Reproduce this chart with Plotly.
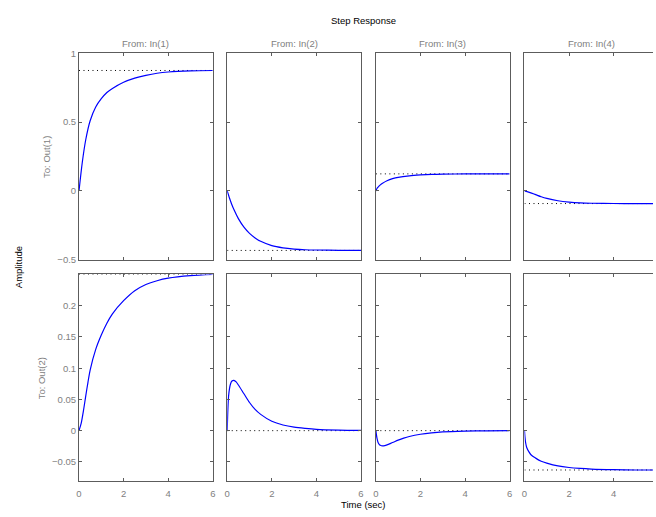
import plotly.graph_objects as go

W, H = 656, 517

# ---- data (time in sec, amplitude) ----
t_11 = [0, 0.15, 0.3, 0.5, 0.75, 1, 1.25, 1.5, 2, 2.5, 3, 3.5, 4, 5, 6]
y_11 = [0, 0.21, 0.37, 0.51, 0.61, 0.67, 0.715, 0.745, 0.79, 0.82, 0.84, 0.855, 0.864, 0.872, 0.875]

t_12 = [0, 0.1, 0.2, 0.3, 0.5, 0.75, 1, 1.25, 1.5, 2, 2.5, 3, 3.5, 4, 5, 6]
y_12 = [0, -0.051, -0.096, -0.135, -0.201, -0.263, -0.308, -0.341, -0.366, -0.397, -0.413, -0.422, -0.427, -0.429, -0.431, -0.432]

t_13 = [0, 0.05, 0.1, 0.2, 0.3, 0.5, 0.75, 1, 1.5, 2, 2.5, 3, 4, 5, 6]
y_13 = [0, 0.018, 0.028, 0.044, 0.056, 0.074, 0.089, 0.099, 0.110, 0.116, 0.120, 0.122, 0.1235, 0.124, 0.124]

t_14 = [0, 0.25, 0.5, 0.75, 1, 1.5, 2, 2.5, 3, 4, 5, 6]
y_14 = [0, -0.012, -0.027, -0.042, -0.054, -0.071, -0.081, -0.087, -0.0895, -0.0912, -0.0916, -0.0917]

t_21 = [0, 0.1, 0.2, 0.3, 0.4, 0.5, 0.75, 1, 1.25, 1.5, 2, 2.5, 3, 3.5, 4, 5, 6]
y_21 = [0, 0.012, 0.032, 0.055, 0.077, 0.097, 0.13, 0.153, 0.172, 0.187, 0.208, 0.224, 0.234, 0.240, 0.244, 0.248, 0.25]

t_22 = [0, 0.03, 0.06, 0.1, 0.15, 0.2, 0.3, 0.4, 0.5, 0.75, 1, 1.25, 1.5, 2, 2.5, 3, 3.5, 4, 5, 6]
y_22 = [0, 0.035, 0.055, 0.067, 0.075, 0.079, 0.0805, 0.078, 0.073, 0.059, 0.045, 0.034, 0.026, 0.015, 0.009, 0.0055, 0.0035, 0.002, 0.0008, 0.0003]

t_23 = [0, 0.05, 0.1, 0.15, 0.2, 0.3, 0.4, 0.5, 0.75, 1, 1.25, 1.5, 2, 2.5, 3, 4, 5, 6]
y_23 = [0, -0.012, -0.019, -0.022, -0.0235, -0.0245, -0.024, -0.0228, -0.019, -0.0152, -0.012, -0.0094, -0.0058, -0.0035, -0.002, -0.0008, -0.0003, -0.0001]

t_24 = [0, 0.02, 0.05, 0.1, 0.2, 0.3, 0.5, 0.75, 1, 1.5, 2, 2.5, 3, 4, 5, 6]
y_24 = [0, -0.010, -0.019, -0.027, -0.034, -0.039, -0.044, -0.049, -0.052, -0.0565, -0.059, -0.0605, -0.0615, -0.0625, -0.063, -0.063]

final_out1 = [0.875, -0.432, 0.124, -0.0916]
final_out2 = [0.25, 0.0, 0.0, -0.063]

input_labels = ["From: In(1)", "From: In(2)", "From: In(3)", "From: In(4)"]
output_labels = ["To: Out(1)", "To: Out(2)"]
x_ticks = [0, 2, 4, 6]
row1_ticks = [-0.5, 0, 0.5, 1]
row2_ticks = [-0.05, 0, 0.05, 0.1, 0.15, 0.2]
row1_range = [-0.5, 1]
row2_range = [-0.0812, 0.25]
t_end = 6

series = [[(t_11, y_11), (t_12, y_12), (t_13, y_13), (t_14, y_14)],
          [(t_21, y_21), (t_22, y_22), (t_23, y_23), (t_24, y_24)]]
finals = [final_out1, final_out2]

# ---- layout geometry (pixels) ----
col_left = [76.7, 226.3, 376.3, 526.3]
col_w = 135.0
row_top = [48.3, 274.3]
row_bot = [259.3, 485.7]

FONT = "Liberation Sans, Arial, Helvetica, sans-serif"
GRAY = "#808080"
FRAME = "#5c5c5c"
FS = 9.5

fig = go.Figure()
layout = dict(
    width=W, height=H, margin=dict(l=0, r=0, t=0, b=0),
    paper_bgcolor="white", plot_bgcolor="white", showlegend=False,
    font=dict(family=FONT, size=FS, color=GRAY),
)

for r in range(2):
    for c in range(4):
        k = r * 4 + c + 1
        xs = "" if k == 1 else str(k)
        t, y = series[r][c]
        fig.add_trace(go.Scatter(x=[0, t_end], y=[finals[r][c]] * 2, mode="lines",
                                 line=dict(color="#000000", width=1, dash="1px,3.5px"),
                                 xaxis="x" + xs, yaxis="y" + xs, hoverinfo="skip"))
        fig.add_trace(go.Scatter(x=t, y=y, mode="lines",
                                 line=dict(color="#0000ff", width=1.2, shape="spline", smoothing=0.8),
                                 xaxis="x" + xs, yaxis="y" + xs))
        x0 = col_left[c]
        x1 = min(x0 + col_w, W)
        xr = [0, (x1 - x0) / col_w * t_end]
        layout["xaxis" + xs] = dict(
            domain=[x0 / W, x1 / W], anchor="y" + xs, range=xr,
            tickvals=x_ticks, showticklabels=(r == 1),
            ticks="inside", ticklen=3, tickwidth=1, tickcolor=FRAME,
            showline=True, linecolor=FRAME, linewidth=1, mirror="ticks",
            showgrid=False, zeroline=False, ticklabelstandoff=3,
            tickfont=dict(family=FONT, size=FS, color=GRAY),
        )
        layout["yaxis" + xs] = dict(
            domain=[1 - row_bot[r] / H, 1 - row_top[r] / H], anchor="x" + xs,
            range=row1_range if r == 0 else row2_range,
            tickvals=row1_ticks if r == 0 else row2_ticks,
            showticklabels=(c == 0),
            ticks="inside", ticklen=3, tickwidth=1, tickcolor=FRAME,
            showline=True, linecolor=FRAME, linewidth=1,
            mirror=("ticks" if c < 3 else False),
            showgrid=False, zeroline=False,
            tickfont=dict(family=FONT, size=FS, color=GRAY),
        )

def ann(text, x, y, color=GRAY, angle=0):
    return dict(text=text, x=x / W, y=1 - y / H, xref="paper", yref="paper",
                showarrow=False, xanchor="center", yanchor="middle", textangle=angle,
                borderpad=0,
                font=dict(family=FONT, size=FS, color=color))

annotations = [ann("Step Response", 364, 15, "#000000"),
               ann("Time (sec)", 364, 509, "#000000"),
               ann("Amplitude", 15, 267, "#000000", -90),
               ann(output_labels[0], 43.8, 153.8, GRAY, -90),
               ann(output_labels[1], 38.8, 380, GRAY, -90)]
for c in range(4):
    cx = col_left[c] + col_w / 2
    annotations.append(ann(input_labels[c], cx, 38, GRAY))
layout["annotations"] = annotations

fig.update_layout(**layout)
fig.write_html("out.html", config={"displayModeBar": False},
               post_script="document.body.style.margin='0';document.body.style.padding='0';document.body.style.overflow='hidden';")
